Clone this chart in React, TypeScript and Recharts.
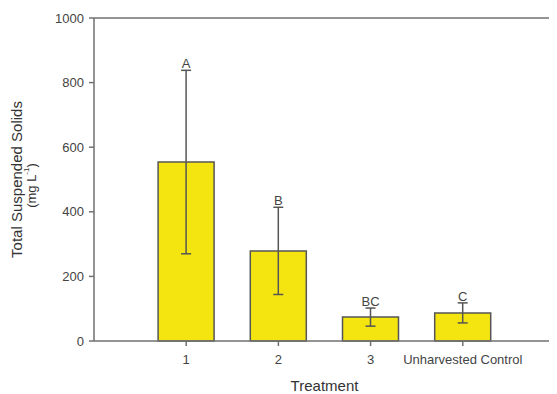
import { BarChart, Bar, XAxis, YAxis, ErrorBar, LabelList, ReferenceLine, Label } from "recharts";

const treatments = ["1", "2", "3", "Unharvested Control"];
const positions = [1, 2, 3, 4];
const tssMeans = [554, 279, 74, 87];
const tssErrors = [284, 135, 28, 31];
const groupLetters = ["A", "B", "BC", "C"];
const yTicks = [0, 200, 400, 600, 800, 1000];

const data = positions.map((x, i) => ({
    x,
    name: treatments[i],
    tss: tssMeans[i],
    err: tssErrors[i],
}));

const FONT = "'Liberation Sans', Arial, sans-serif";
const AXIS = "#707070";

// letter sits just above the top of the error bar
function LetterLabel(props: any) {
    const { x, y, width, height, index } = props;
    const val = tssMeans[index];
    const errTop = y - (tssErrors[index] * height) / val;
    return (
        <text x={x + width / 2} y={errTop - 2} textAnchor="middle" fontSize={13} fontFamily={FONT} fill="#444">
            {groupLetters[index]}
        </text>
    );
}

function YTitle(props: any) {
    const vb = props.viewBox || { x: 0, y: 10, width: 86, height: 323 };
    const cy = vb.y + vb.height / 2;
    return (
        <g fontFamily={FONT} fill="#333">
            <text x={8} y={cy} transform={`rotate(-90, 8, ${cy})`} textAnchor="middle" dominantBaseline="central" fontSize={15}>
                Total Suspended Solids
            </text>
            <text x={23} y={cy + 6} transform={`rotate(-90, 23, ${cy + 6})`} textAnchor="middle" dominantBaseline="central" fontSize={13}>
                (mg L<tspan dy={-5} fontSize={8}>-1</tspan><tspan dy={5}>)</tspan>
            </text>
        </g>
    );
}

export default function App() {
    return (
        <div style={{ width: 549, height: 386 }}>
            <BarChart width={549} height={386} data={data} margin={{ top: 10, right: 2, bottom: 0, left: 0 }}>
                <XAxis
                    dataKey="x"
                    type="number"
                    domain={[0, 5]}
                    ticks={positions}
                    tickFormatter={(v: number) => treatments[v - 1]}
                    height={53}
                    stroke={AXIS}
                    strokeWidth={1.5}
                    tickSize={5}
                    tickMargin={9}
                    tick={{ fontSize: 13, fontFamily: FONT, fill: "#444" }}
                >
                    <Label value="Treatment" position="insideBottom" offset={3} style={{ fontSize: 15, fontFamily: FONT, fill: "#333" }} />
                </XAxis>
                <YAxis
                    type="number"
                    domain={[0, 1000]}
                    ticks={yTicks}
                    width={86}
                    stroke={AXIS}
                    strokeWidth={1.5}
                    tickSize={5}
                    tickMargin={5}
                    tick={{ fontSize: 13, fontFamily: FONT, fill: "#444" }}
                >
                    <Label content={<YTitle />} />
                </YAxis>
                <ReferenceLine y={1000} stroke={AXIS} strokeWidth={1.5} />
                <ReferenceLine x={5} stroke={AXIS} strokeWidth={1.5} />
                <Bar dataKey="tss" fill="#f4e511" stroke="#555" strokeWidth={1.5} barSize={56} isAnimationActive={false}>
                    <ErrorBar dataKey="err" width={5} stroke="#555" strokeWidth={1.5} direction="y" />
                    <LabelList dataKey="tss" content={<LetterLabel />} />
                </Bar>
            </BarChart>
        </div>
    );
}
